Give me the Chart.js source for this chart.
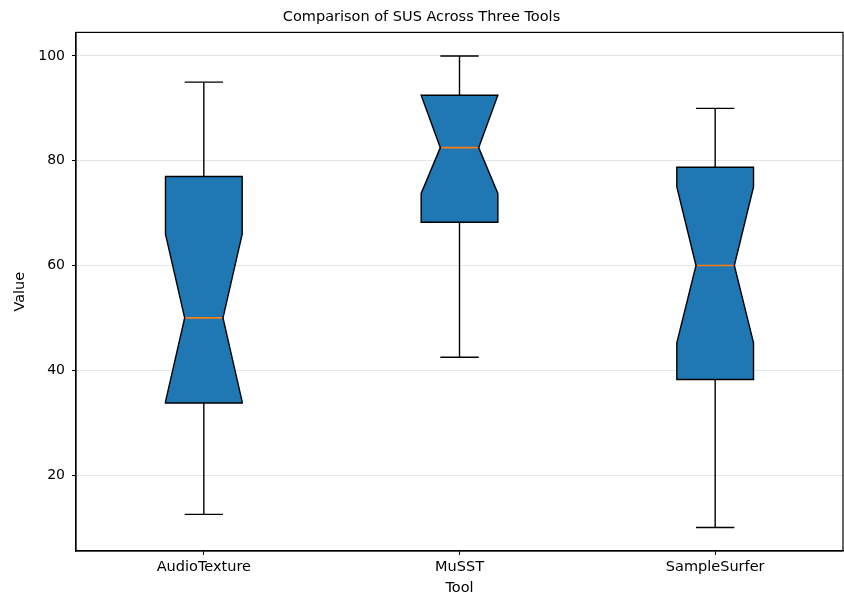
<!DOCTYPE html>
<html lang="en">
<head>
  <meta charset="UTF-8" />
  <title>Comparison of SUS Across Three Tools</title>
  <script src="https://cdn.jsdelivr.net/npm/chart.js"></script>
  <style>
    html, body {
      margin: 0;
      padding: 0;
      background: #ffffff;
    }

    #wrap {
      width: 844px;
      height: 598px;
    }
  </style>
</head>
<body>
  <div id="wrap"><canvas id="susChart"></canvas></div>

<script>
// values
const tools = ['AudioTexture', 'MuSST', 'SampleSurfer'];
const whiskerLow  = [12.5, 42.5, 10];
const q1          = [33.75, 68.25, 38.25];
const medians     = [50, 82.5, 60];
const q3          = [77, 92.5, 78.75];
const whiskerHigh = [95, 100, 90];
const notchLow    = [34, 73.75, 45.25];
const notchHigh   = [66, 92.5, 75];
const yTicks = [20, 40, 60, 80, 100];

const FONT = "'DejaVu Sans', sans-serif";

// draws notched boxes from the arrays above, placed by the chart's scales
const notchedBoxes = {
  id: 'notchedBoxes',
  afterDatasetsDraw(chart) {
    const ctx = chart.ctx;
    const area = chart.chartArea;
    const x = chart.scales.x;
    const y = chart.scales.y;
    const step = x.getPixelForValue(1) - x.getPixelForValue(0);
    const half = step * 0.15;
    const notch = half / 2;

    ctx.save();
    ctx.lineWidth = 1.4;
    ctx.strokeStyle = '#000';

    tools.forEach((t, i) => {
      const cx = x.getPixelForValue(i);
      const yWl = y.getPixelForValue(whiskerLow[i]);
      const yWh = y.getPixelForValue(whiskerHigh[i]);
      const yQ1 = y.getPixelForValue(q1[i]);
      const yQ3 = y.getPixelForValue(q3[i]);
      const yMed = y.getPixelForValue(medians[i]);
      const yNl = y.getPixelForValue(notchLow[i]);
      const yNh = y.getPixelForValue(notchHigh[i]);

      // whiskers and caps
      ctx.beginPath();
      ctx.moveTo(cx, yQ1); ctx.lineTo(cx, yWl);
      ctx.moveTo(cx, yQ3); ctx.lineTo(cx, yWh);
      ctx.moveTo(cx - notch, yWl); ctx.lineTo(cx + notch, yWl);
      ctx.moveTo(cx - notch, yWh); ctx.lineTo(cx + notch, yWh);
      ctx.stroke();

      // notched box
      ctx.beginPath();
      ctx.moveTo(cx - half, yQ1);
      ctx.lineTo(cx + half, yQ1);
      ctx.lineTo(cx + half, yNl);
      ctx.lineTo(cx + notch, yMed);
      ctx.lineTo(cx + half, yNh);
      ctx.lineTo(cx + half, yQ3);
      ctx.lineTo(cx - half, yQ3);
      ctx.lineTo(cx - half, yNh);
      ctx.lineTo(cx - notch, yMed);
      ctx.lineTo(cx - half, yNl);
      ctx.closePath();
      ctx.fillStyle = '#1f77b4';
      ctx.fill();
      ctx.stroke();

      // median
      ctx.beginPath();
      ctx.strokeStyle = '#ff7f0e';
      ctx.lineWidth = 1.6;
      ctx.moveTo(cx - notch + 1, yMed);
      ctx.lineTo(cx + notch - 1, yMed);
      ctx.stroke();
      ctx.strokeStyle = '#000';
      ctx.lineWidth = 1.4;
    });

    // axes frame
    ctx.lineWidth = 1.2;
    ctx.strokeStyle = '#000';
    ctx.strokeRect(area.left, area.top, area.right - area.left, area.bottom - area.top);
    ctx.restore();
  }
};

new Chart(document.getElementById('susChart'), {
  type: 'line',
  data: {
    labels: tools,
    datasets: [{
      label: 'Median',
      data: medians,
      showLine: false,
      pointRadius: 0
    }]
  },
  options: {
    responsive: true,
    maintainAspectRatio: false,
    animation: false,
    layout: { padding: { left: 0, right: 1, top: 0, bottom: 0 } },
    plugins: {
      legend: { display: false },
      tooltip: { enabled: false },
      title: {
        display: true,
        text: 'Comparison of SUS Across Three Tools',
        color: '#000',
        font: { family: FONT, size: 14.5, weight: 'normal' },
        padding: { top: 9, bottom: 6 }
      }
    },
    scales: {
      x: {
        offset: true,
        grid: { offset: false, drawOnChartArea: false, tickColor: '#000', tickLength: 4 },
        border: { color: '#000', width: 1.2 },
        ticks: { color: '#000', padding: 4, font: { family: FONT, size: 14.5 } },
        title: {
          display: true,
          text: 'Tool',
          color: '#000',
          font: { family: FONT, size: 14.5 },
          padding: { top: 0, bottom: 1 }
        },
        afterFit(scale) { scale.height = 47; }
      },
      y: {
        min: 5.5,
        max: 104.5,
        afterBuildTicks(scale) { scale.ticks = yTicks.map(v => ({ value: v })); },
        grid: { color: 'rgba(0,0,0,0.1)', tickColor: '#000', tickLength: 4 },
        border: { color: '#000', width: 1.2 },
        ticks: { color: '#000', padding: 7, font: { family: FONT, size: 14 } },
        title: {
          display: true,
          text: 'Value',
          color: '#000',
          font: { family: FONT, size: 14.5 },
          padding: { top: 12, bottom: 0 }
        },
        afterFit(scale) { scale.width = 76; }
      }
    }
  },
  plugins: [notchedBoxes]
});
</script>
</body>
</html>
